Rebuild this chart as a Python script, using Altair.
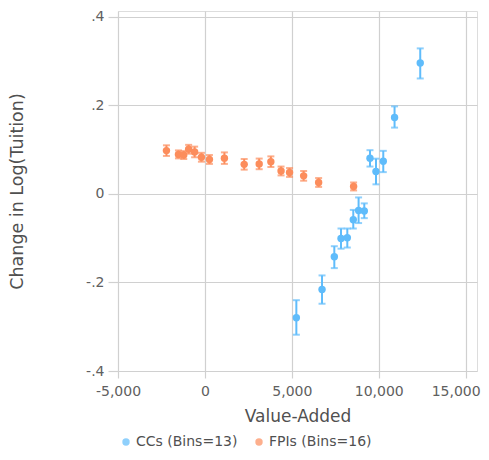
import altair as alt
import pandas as pd

# Community colleges (CCs)
cc_x = [5259, 6736, 7443, 7828, 8190, 8534, 8839, 9167, 9494, 9839, 10259, 10908, 12385]
cc_y = [-0.2795, -0.2156, -0.142, -0.1007, -0.099, -0.0584, -0.0374, -0.0383, 0.0806, 0.0508, 0.074, 0.173, 0.296]
cc_lo = [-0.318, -0.248, -0.1675, -0.1236, -0.121, -0.078, -0.0657, -0.0546, 0.062, 0.0218, 0.0494, 0.150, 0.261]
cc_hi = [-0.240, -0.184, -0.118, -0.078, -0.078, -0.036, -0.0078, -0.0212, 0.099, 0.0798, 0.0975, 0.198, 0.329]

# For-profit institutions (FPIs)
fpi_x = [-2213, -1523, -1218, -937, -592, -201, 259, 1121, 2259, 3121, 3793, 4379, 4868, 5678, 6540, 8552]
fpi_y = [0.098, 0.0895, 0.088, 0.101, 0.095, 0.083, 0.078, 0.081, 0.067, 0.068, 0.073, 0.052, 0.0486, 0.041, 0.026, 0.017]
fpi_err = [0.012, 0.009, 0.009, 0.010, 0.012, 0.010, 0.010, 0.013, 0.012, 0.012, 0.012, 0.010, 0.010, 0.011, 0.010, 0.009]

series = ["CCs (Bins=13)", "FPIs (Bins=16)"]
colors = ["#5fbcfb", "#fc8d5c"]

x_ticks = [-5000, 0, 5000, 10000, 15000]
y_ticks = [-0.4, -0.2, 0, 0.2, 0.4]

rows = []
for x, y, lo, hi in zip(cc_x, cc_y, cc_lo, cc_hi):
    rows.append({"series": series[0], "x": x, "y": y, "lo": lo, "hi": hi})
for x, y, e in zip(fpi_x, fpi_y, fpi_err):
    rows.append({"series": series[1], "x": x, "y": y, "lo": y - e, "hi": y + e})
df = pd.DataFrame(rows)

FONT = "DejaVu Sans"
GRID = "#d0d0d0"

xscale = alt.Scale(domain=[-5000, 15650], nice=False, zero=False)
yscale = alt.Scale(domain=[-0.4, 0.4135], nice=False, zero=False)
cscale = alt.Scale(domain=series, range=colors)

legend = alt.Legend(
    title=None, orient="none", direction="horizontal",
    legendX=1, legendY=424,
    labelFont=FONT, labelFontSize=14, labelColor="#505050",
    symbolType="circle", symbolSize=55, symbolStrokeWidth=0,
    labelOffset=3, columnPadding=14,
)
color = alt.Color("series:N", scale=cscale, legend=legend)

xaxis = alt.Axis(
    values=x_ticks, title="Value-Added", grid=True, domain=False,
    tickSize=7, tickColor=GRID, gridColor=GRID, gridWidth=1.2, tickWidth=1.2,
    labelFont=FONT, labelFontSize=14, labelColor="#606060", labelPadding=6,
    labelFlush=False,
    labelOffset={"condition": {"test": "datum.value >= 15000", "value": -10}, "value": 0},
    labelExpr="(datum.value < 0 ? '-' : '') + format(abs(datum.value), ',')",
    titleFont=FONT, titleFontSize=17, titleFontWeight="normal", titleColor="#505050",
    titlePadding=10,
)
yaxis = alt.Axis(
    values=y_ticks, title="Change in  Log(Tuition)", grid=True, domain=False,
    tickSize=10, tickColor=GRID, gridColor=GRID, gridWidth=1.2, tickWidth=1.2,
    labelFont=FONT, labelFontSize=14, labelColor="#606060", labelPadding=4,
    labelFlush=False,
    labelExpr="datum.value == 0 ? '0' : (datum.value < 0 ? '-' : '') + '.' + toString(abs(round(datum.value * 10)))",
    titleFont=FONT, titleFontSize=17.5, titleFontWeight="normal", titleColor="#505050",
    titlePadding=59,
)

base = alt.Chart(df)

rules = base.mark_rule(strokeWidth=2).encode(
    x=alt.X("x:Q", scale=xscale, axis=xaxis),
    y=alt.Y("lo:Q", scale=yscale, axis=yaxis),
    y2="hi:Q",
    color=color,
)
caps_lo = base.mark_tick(orient="horizontal", size=7, thickness=2).encode(
    x="x:Q", y="lo:Q", color=color,
)
caps_hi = base.mark_tick(orient="horizontal", size=7, thickness=2).encode(
    x="x:Q", y="hi:Q", color=color,
)
points = base.mark_circle(size=55, opacity=1).encode(
    x="x:Q", y="y:Q", color=color,
)

chart = (
    alt.layer(rules, caps_lo, caps_hi, points)
    .properties(
        width=359, height=360,
        autosize=alt.AutoSizeParams(type="none"),
        padding={"left": 110, "top": 3, "right": 4, "bottom": 78},
    )
    .configure_view(stroke=None)
    .configure(background="white")
)

chart.save("out.html", embed_options={"renderer": "svg", "actions": False})
